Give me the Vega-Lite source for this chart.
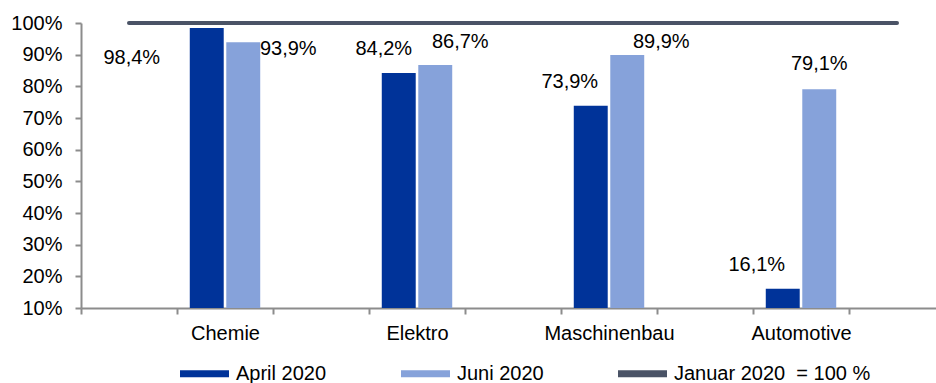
{
  "$schema": "https://vega.github.io/schema/vega-lite/v6.json",
  "width": 855,
  "height": 285,
  "autosize": {"type": "none"},
  "padding": {"left": 81, "top": 23, "right": 0, "bottom": 75},
  "background": "white",
  "config": {
    "font": "Liberation Sans",
    "view": {"stroke": null},
    "locale": {"number": {"decimal": ",", "thousands": ".", "grouping": [3], "currency": ["", " €"]}},
    "axis": {
      "grid": false,
      "domainColor": "#8c8c8c",
      "domainWidth": 2,
      "tickColor": "#8c8c8c",
      "tickWidth": 2,
      "tickSize": 6,
      "labelFont": "Liberation Sans",
      "labelFontSize": 20,
      "labelColor": "#000000",
      "title": null
    },
    "text": {"font": "Liberation Sans", "fontSize": 20, "color": "#000000", "baseline": "middle", "align": "center"}
  },
  "datasets": {
    "bars": [
      {"cat": "Chemie", "series": "April 2020", "value": 0.984},
      {"cat": "Chemie", "series": "Juni 2020", "value": 0.939},
      {"cat": "Elektro", "series": "April 2020", "value": 0.842},
      {"cat": "Elektro", "series": "Juni 2020", "value": 0.867},
      {"cat": "Maschinenbau", "series": "April 2020", "value": 0.739},
      {"cat": "Maschinenbau", "series": "Juni 2020", "value": 0.899},
      {"cat": "Automotive", "series": "April 2020", "value": 0.161},
      {"cat": "Automotive", "series": "Juni 2020", "value": 0.791}
    ],
    "ref": [
      {"cat": "s0", "series": "Januar 2020\u00a0 = 100 %", "value": 1},
      {"cat": "Chemie", "series": "Januar 2020\u00a0 = 100 %", "value": 1},
      {"cat": "s2", "series": "Januar 2020\u00a0 = 100 %", "value": 1},
      {"cat": "Elektro", "series": "Januar 2020\u00a0 = 100 %", "value": 1},
      {"cat": "s4", "series": "Januar 2020\u00a0 = 100 %", "value": 1},
      {"cat": "Maschinenbau", "series": "Januar 2020\u00a0 = 100 %", "value": 1},
      {"cat": "s6", "series": "Januar 2020\u00a0 = 100 %", "value": 1},
      {"cat": "Automotive", "series": "Januar 2020\u00a0 = 100 %", "value": 1},
      {"cat": "s8", "series": "Januar 2020\u00a0 = 100 %", "value": 1}
    ]
  },
  "encoding": {
    "x": {
      "field": "cat",
      "type": "nominal",
      "sort": null,
      "scale": {
        "domain": ["s0", "Chemie", "s2", "Elektro", "s4", "Maschinenbau", "s6", "Automotive", "s8"],
        "range": [0, 864],
        "paddingInner": 0,
        "paddingOuter": 0
      },
      "axis": {
        "labelAngle": 0,
        "tickBand": "extent",
        "labelPadding": 9,
        "labelExpr": "indexof(['Chemie','Elektro','Maschinenbau','Automotive'], datum.value) >= 0 ? datum.value : ''"
      }
    },
    "y": {
      "field": "value",
      "type": "quantitative",
      "scale": {"domain": [0.1, 1], "nice": false, "zero": false},
      "axis": {"format": ".0%", "values": [0.1, 0.2, 0.3, 0.4, 0.5, 0.6, 0.7, 0.8, 0.9, 1.0], "labelPadding": 13}
    }
  },
  "layer": [
    {
      "data": {"name": "bars"},
      "mark": {"type": "bar"},
      "encoding": {
        "xOffset": {
          "field": "series",
          "type": "nominal",
          "scale": {"domain": ["April 2020", "Juni 2020"], "paddingInner": 0.07, "paddingOuter": 0.35}
        },
        "y2": {"datum": 0.1},
        "color": {
          "field": "series",
          "type": "nominal",
          "scale": {
            "domain": ["April 2020", "Juni 2020", "Januar 2020\u00a0 = 100 %"],
            "range": ["#003399", "#86A2DA", "#4A5366"]
          },
          "legend": {
            "orient": "none",
            "legendX": 99,
            "legendY": 326,
            "direction": "horizontal",
            "title": null,
            "symbolType": "M-1,-0.14L1,-0.14L1,0.14L-1,0.14Z",
            "symbolSize": 2401,
            "symbolStrokeWidth": 0,
            "symbolOpacity": 1,
            "labelFont": "Liberation Sans",
            "labelFontSize": 20,
            "labelColor": "#000000",
            "labelLimit": 0,
            "labelOffset": 7,
            "columnPadding": 74
          }
        }
      }
    },
    {
      "data": {"name": "ref"},
      "mark": {"type": "line", "strokeWidth": 4, "strokeCap": "round"},
      "encoding": {
        "color": {"field": "series", "type": "nominal"}
      }
    },
    {
      "data": {"name": "bars"},
      "transform": [{"filter": "datum.cat == 'Chemie' && datum.series == 'April 2020'"}],
      "mark": {"type": "text", "dx": -75, "dy": 30},
      "encoding": {"xOffset": {"field": "series", "type": "nominal"}, "text": {"field": "value", "type": "quantitative", "format": ".1%"}}
    },
    {
      "data": {"name": "bars"},
      "transform": [{"filter": "datum.cat == 'Chemie' && datum.series == 'Juni 2020'"}],
      "mark": {"type": "text", "dx": 45, "dy": 7},
      "encoding": {"xOffset": {"field": "series", "type": "nominal"}, "text": {"field": "value", "type": "quantitative", "format": ".1%"}}
    },
    {
      "data": {"name": "bars"},
      "transform": [{"filter": "datum.cat == 'Elektro' && datum.series == 'April 2020'"}],
      "mark": {"type": "text", "dx": -15, "dy": -24},
      "encoding": {"xOffset": {"field": "series", "type": "nominal"}, "text": {"field": "value", "type": "quantitative", "format": ".1%"}}
    },
    {
      "data": {"name": "bars"},
      "transform": [{"filter": "datum.cat == 'Elektro' && datum.series == 'Juni 2020'"}],
      "mark": {"type": "text", "dx": 25, "dy": -23},
      "encoding": {"xOffset": {"field": "series", "type": "nominal"}, "text": {"field": "value", "type": "quantitative", "format": ".1%"}}
    },
    {
      "data": {"name": "bars"},
      "transform": [{"filter": "datum.cat == 'Maschinenbau' && datum.series == 'April 2020'"}],
      "mark": {"type": "text", "dx": -21, "dy": -24},
      "encoding": {"xOffset": {"field": "series", "type": "nominal"}, "text": {"field": "value", "type": "quantitative", "format": ".1%"}}
    },
    {
      "data": {"name": "bars"},
      "transform": [{"filter": "datum.cat == 'Maschinenbau' && datum.series == 'Juni 2020'"}],
      "mark": {"type": "text", "dx": 34, "dy": -13},
      "encoding": {"xOffset": {"field": "series", "type": "nominal"}, "text": {"field": "value", "type": "quantitative", "format": ".1%"}}
    },
    {
      "data": {"name": "bars"},
      "transform": [{"filter": "datum.cat == 'Automotive' && datum.series == 'April 2020'"}],
      "mark": {"type": "text", "dx": -26, "dy": -24},
      "encoding": {"xOffset": {"field": "series", "type": "nominal"}, "text": {"field": "value", "type": "quantitative", "format": ".1%"}}
    },
    {
      "data": {"name": "bars"},
      "transform": [{"filter": "datum.cat == 'Automotive' && datum.series == 'Juni 2020'"}],
      "mark": {"type": "text", "dx": 0, "dy": -25},
      "encoding": {"xOffset": {"field": "series", "type": "nominal"}, "text": {"field": "value", "type": "quantitative", "format": ".1%"}}
    }
  ]
}
